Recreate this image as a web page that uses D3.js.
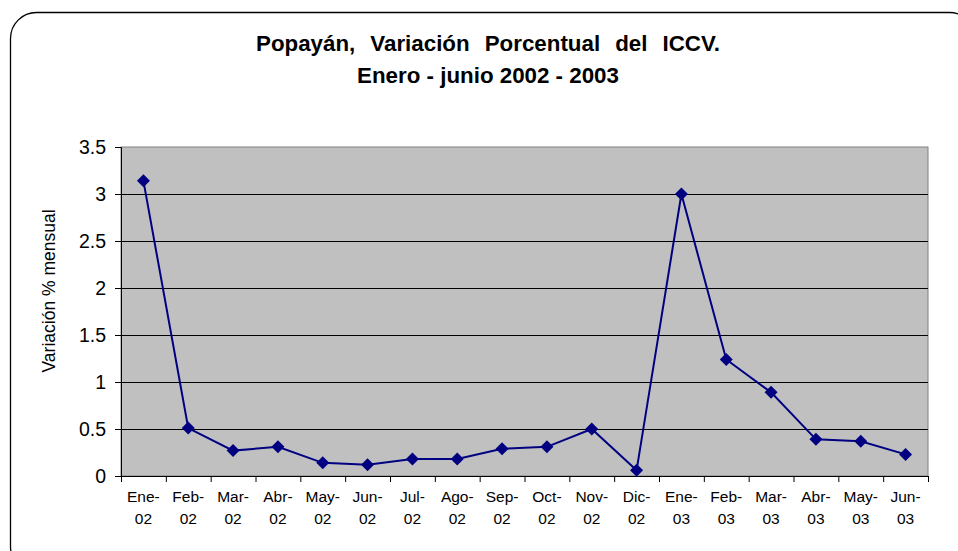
<!DOCTYPE html>
<html>
<head>
<meta charset="utf-8">
<script src="https://cdn.jsdelivr.net/npm/d3@7"></script>
<style>
  body { margin: 0; background: #fff; }
  svg { display: block; font-family: "Liberation Sans", Arial, sans-serif; }
</style>
</head>
<body>
<svg id="chart" width="958" height="551"></svg>
<script>
// Chart data
const categories = ["Ene-02", "Feb-02", "Mar-02", "Abr-02", "May-02", "Jun-02", "Jul-02", "Ago-02", "Sep-02",
  "Oct-02", "Nov-02", "Dic-02", "Ene-03", "Feb-03", "Mar-03", "Abr-03", "May-03", "Jun-03"];
const variacion = [3.14, 0.51, 0.27, 0.31, 0.14, 0.12, 0.18, 0.18, 0.29,
  0.31, 0.50, 0.06, 3.00, 1.24, 0.89, 0.39, 0.37, 0.23];
const yTicks = [0, 0.5, 1, 1.5, 2, 2.5, 3, 3.5];
const titleLines = ["Popayán, Variación Porcentual del ICCV.", "Enero - junio 2002 - 2003"];
const yLabel = "Variación % mensual";

const svg = d3.select("#chart");

// Outer rounded frame (runs off the right and bottom edges)
svg.append("rect")
  .attr("x", 10.5).attr("y", 12.5)
  .attr("width", 965).attr("height", 560)
  .attr("rx", 26).attr("ry", 26)
  .attr("fill", "#fff")
  .attr("stroke", "#000")
  .attr("stroke-width", 1.3);

const plot = { left: 121, right: 928, top: 147, bottom: 476 };

const x = d3.scaleBand()
  .domain(categories)
  .range([plot.left, plot.right])
  .paddingInner(0).paddingOuter(0);

const xEdge = d3.scaleLinear()
  .domain([0, categories.length])
  .range([plot.left, plot.right]);

const y = d3.scaleLinear()
  .domain([0, 3.5])
  .range([plot.bottom, plot.top]);

// Plot background
svg.append("rect")
  .attr("x", plot.left).attr("y", plot.top)
  .attr("width", plot.right - plot.left)
  .attr("height", plot.bottom - plot.top)
  .attr("fill", "#c0c0c0")
  .attr("stroke", "#808080")
  .attr("stroke-width", 1);

// Horizontal gridlines
svg.append("g")
  .selectAll("line")
  .data(yTicks.filter(d => d > 0 && d < 3.5))
  .enter()
  .append("line")
  .attr("x1", plot.left).attr("x2", plot.right)
  .attr("y1", d => Math.round(y(d)) + 0.5)
  .attr("y2", d => Math.round(y(d)) + 0.5)
  .attr("stroke", "#000")
  .attr("stroke-width", 1);

// Y axis
const yAxis = svg.append("g")
  .attr("transform", `translate(${plot.left},0)`)
  .call(d3.axisLeft(y).tickValues(yTicks).tickSize(6).tickPadding(9).tickFormat(d3.format("")));
yAxis.select(".domain").attr("stroke", "#000");
yAxis.selectAll("text")
  .attr("fill", "#000")
  .style("font-size", "19.5px")
  .style("font-family", "Liberation Sans, Arial, sans-serif");

// X axis: ticks at category boundaries
const xAxis = svg.append("g")
  .attr("transform", `translate(0,${plot.bottom})`)
  .call(d3.axisBottom(xEdge).tickValues(d3.range(categories.length + 1)).tickSize(6).tickFormat(""));
xAxis.select(".domain").attr("stroke", "#000");

// X labels on two lines
const xLabels = svg.append("g")
  .selectAll("text")
  .data(categories)
  .enter()
  .append("text")
  .attr("text-anchor", "middle")
  .style("font-size", "15.5px")
  .attr("fill", "#000");

xLabels.append("tspan")
  .attr("x", d => x(d) + x.bandwidth() / 2)
  .attr("y", 502)
  .text(d => d.split("-")[0] + "-");

xLabels.append("tspan")
  .attr("x", d => x(d) + x.bandwidth() / 2)
  .attr("y", 524)
  .text(d => d.split("-")[1]);

// Series line
const points = categories.map((c, i) => ({ cat: c, value: variacion[i] }));

svg.append("path")
  .datum(points)
  .attr("fill", "none")
  .attr("stroke", "#000080")
  .attr("stroke-width", 2)
  .attr("d", d3.line()
    .x(d => x(d.cat) + x.bandwidth() / 2)
    .y(d => y(d.value)));

// Diamond markers
svg.append("g")
  .selectAll("path")
  .data(points)
  .enter()
  .append("path")
  .attr("transform", d => `translate(${x(d.cat) + x.bandwidth() / 2},${y(d.value)})`)
  .attr("d", "M0,-6.5L6.5,0L0,6.5L-6.5,0Z")
  .attr("fill", "#000080");

// Y axis title
svg.append("text")
  .attr("transform", "translate(55,291) rotate(-90)")
  .attr("text-anchor", "middle")
  .style("font-size", "17.5px")
  .attr("fill", "#000")
  .text(yLabel);

// Chart title: size set from the second line, first line spread to its width
const titleWidths = [464, 262];
const titleBaselines = [51, 83];
const titleTexts = titleLines.map((line, i) => svg.append("text")
  .attr("x", 488)
  .attr("y", titleBaselines[i])
  .attr("text-anchor", "middle")
  .style("font-size", "18px")
  .style("font-weight", "bold")
  .attr("fill", "#000")
  .text(line));

const titleSize = 18 * titleWidths[1] / titleTexts[1].node().getComputedTextLength();
titleTexts.forEach((t, i) => {
  t.style("font-size", `${titleSize}px`);
  const gaps = titleLines[i].split(" ").length - 1;
  const extra = (titleWidths[i] - t.node().getComputedTextLength()) / gaps;
  if (i === 0 && extra > 0) t.style("word-spacing", `${extra}px`);
});
</script>
</body>
</html>
